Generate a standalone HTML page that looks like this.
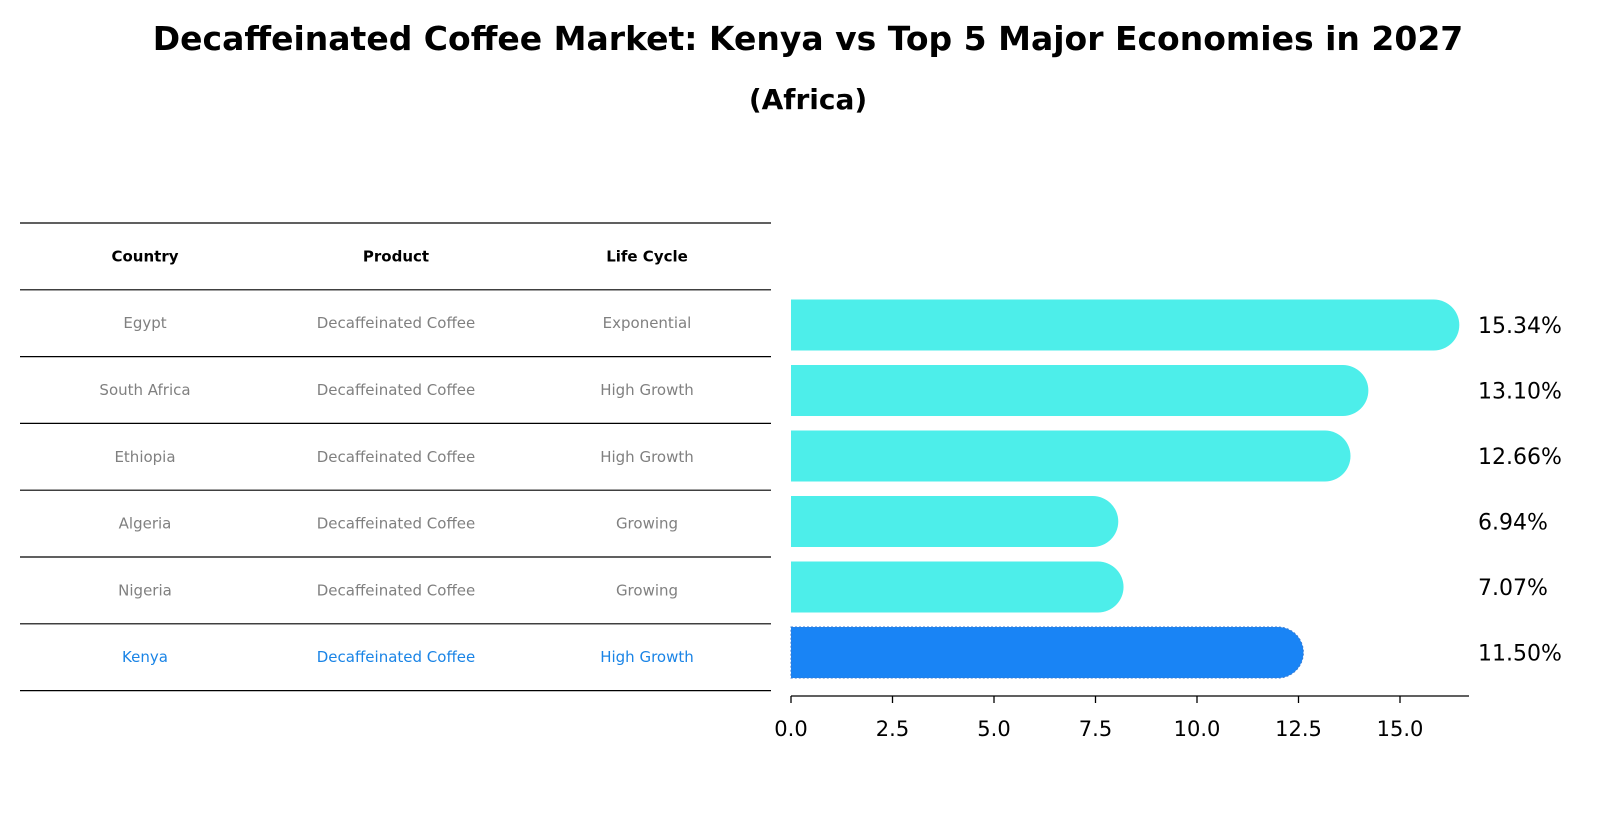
<!DOCTYPE html>
<html><head><meta charset="utf-8"><style>
body{margin:0;background:#fff;}
svg{display:block;font-family:"DejaVu Sans","Liberation Sans",sans-serif;}
</style></head><body>
<svg id="chart" width="1604" height="823" viewBox="0 0 1604 823">
<text x="808" y="50" text-anchor="middle" font-size="33" font-weight="bold">Decaffeinated Coffee Market: Kenya vs Top 5 Major Economies in 2027</text>
<text x="808" y="109" text-anchor="middle" font-size="28" font-weight="bold">(Africa)</text>
<g id="table"></g>
<g id="bars"></g>
</svg>
<script>
const countries=["Egypt","South Africa","Ethiopia","Algeria","Nigeria","Kenya"];
const products=["Decaffeinated Coffee","Decaffeinated Coffee","Decaffeinated Coffee","Decaffeinated Coffee","Decaffeinated Coffee","Decaffeinated Coffee"];
const lifeCycles=["Exponential","High Growth","High Growth","Growing","Growing","High Growth"];
const values=[15.34,13.10,12.66,6.94,7.07,11.50];
const valueLabels=["15.34%","13.10%","12.66%","6.94%","7.07%","11.50%"];
const ticks=[0,2.5,5,7.5,10,12.5,15];
const tickLabels=["0.0","2.5","5.0","7.5","10.0","12.5","15.0"];

const NS="http://www.w3.org/2000/svg";
function mk(tag,attrs,parent){const e=document.createElementNS(NS,tag);for(const k in attrs)e.setAttribute(k,attrs[k]);parent.appendChild(e);return e;}
const table=document.getElementById('table'), bars=document.getElementById('bars');
const x0=791, pxPerUnit=40.6;
const xScale=v=>x0+v*pxPerUnit;
const yBar=i=>325+i*65.5;
// table
const lineY0=223, rowH=66.8, colX=[145,396,647];
for(let i=0;i<=countries.length+1;i++){
  const l=mk('line',{x1:20,x2:771,y1:lineY0+i*rowH,y2:lineY0+i*rowH,stroke:'#000','stroke-width':1.2},table);
  
  
}
["Country","Product","Life Cycle"].forEach((h,j)=>{
  const t=mk('text',{x:colX[j],y:lineY0+rowH/2+5,'text-anchor':'middle','font-size':15,'font-weight':'bold'},table);
  t.textContent=h;
  
  
});
countries.forEach((c,i)=>{
  const col=i===countries.length-1?'#1a84e6':'#808080';
  [c,products[i],lifeCycles[i]].forEach((v,j)=>{
    const t=mk('text',{x:colX[j],y:lineY0+(i+1.5)*rowH+5,'text-anchor':'middle','font-size':15,fill:col},table);
    t.textContent=v;
    
    
  });
});
// bars
const h=51;
values.forEach((v,i)=>{
  const kenya=i===values.length-1;
  const col=kenya?'#1984f5':'#4deeea';
  const cy=yBar(i), xe=xScale(v)+20;
  const p=mk('path',{d:`M${x0},${cy-h/2} H${xe} A${h/2},${h/2} 0 0 1 ${xe},${cy+h/2} H${x0} Z`,fill:col},bars);
  if(kenya){p.setAttribute('stroke','#3a7ad0');p.setAttribute('stroke-dasharray','2,2');p.setAttribute('stroke-width','1');}
  
  
  const t=mk('text',{x:1478,y:cy+8,'font-size':22},bars);
  t.textContent=valueLabels[i];
  
  
});
// axis
const ax=mk('line',{x1:x0,x2:1469,y1:696,y2:696,stroke:'#000','stroke-width':1.3},bars);


ticks.forEach((t,i)=>{
  const x=xScale(t);
  const tk=mk('line',{x1:x,x2:x,y1:696,y2:703,stroke:'#000','stroke-width':1.3},bars);
  
  
  const lb=mk('text',{x:x,y:736,'text-anchor':'middle','font-size':21},bars);
  lb.textContent=tickLabels[i];
  
  
});
</script>
</body></html>
